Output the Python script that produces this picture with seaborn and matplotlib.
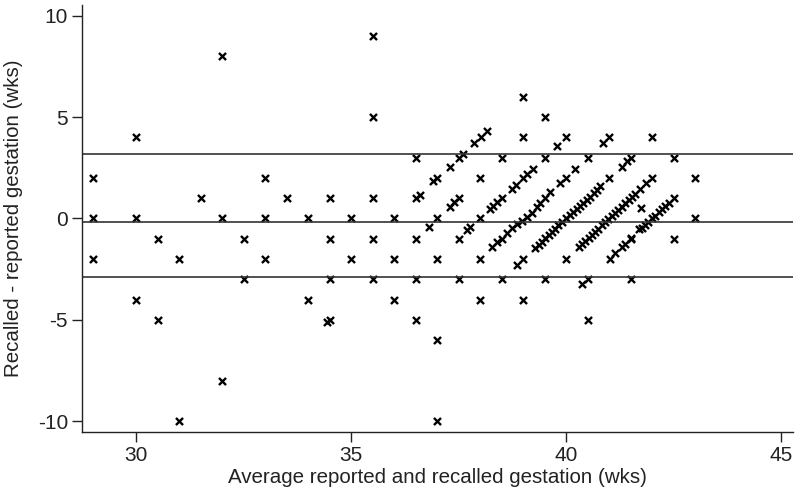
import matplotlib
matplotlib.use("Agg")
import matplotlib.pyplot as plt
import pandas as pd
import seaborn as sns

# Bland-Altman style data: average of reported/recalled gestation vs difference (wks)
avg_wks = [
    29, 29, 29, 30, 30, 30, 30.5, 30.5, 31, 31, 31.5,
    32, 32, 32, 32.5, 32.5, 33, 33, 33, 33.5, 34, 34,
    34.5, 34.5, 34.5, 34.5, 34.43, 35, 35,
    35.5, 35.5, 35.5, 35.5, 35.5, 36, 36, 36,
    36.5, 36.5, 36.5, 36.5, 36.5, 36.6, 36.8, 36.91,
    37, 37, 37, 37, 37, 37.29, 37.29, 37.4,
    37.5, 37.5, 37.5, 37.5, 37.59, 37.69, 37.77, 37.86, 38.02, 38.16,
    38, 38, 38, 38, 38.23, 38.31, 38.4, 38.5, 38.5, 38.5,
    38.74, 38.84, 39, 39.08, 39.22, 39.5, 39.78, 40,
    38.27, 38.39, 38.5, 38.63, 38.74, 38.85, 38.97, 39.09, 39.2, 39.32,
    39.4, 39.51, 39.63, 39.86, 40, 40.21, 40.5, 40.85, 41,
    39, 39, 39, 39, 38.85, 39.5, 39.5,
    39.28, 39.36, 39.44, 39.51, 39.59, 39.67, 39.74, 39.82, 39.9, 40.0,
    40.09, 40.17, 40.25, 40.33, 40.4, 40.48, 40.56, 40.64, 40.71, 40.79,
    41, 41.3, 41.41, 41.5, 42,
    40, 40.5, 40.5, 40.36,
    40.29, 40.36, 40.44, 40.52, 40.6, 40.67, 40.75, 40.83, 40.91, 40.98,
    41.06, 41.14, 41.21, 41.29, 41.37, 41.45, 41.53, 41.6, 41.72, 41.86, 41.99,
    41.74, 41.5, 41.5,
    41.01, 41.14, 41.29, 41.37, 41.51,
    41.7, 41.76, 41.84, 41.91, 41.99, 42.07, 42.15, 42.23, 42.3, 42.38, 42.5,
    42.5, 42.5, 43, 43,
]
diff_wks = [
    2, 0, -2, 4, 0, -4, -1, -5, -2, -10, 1,
    8, 0, -8, -1, -3, 2, 0, -2, 1, 0, -4,
    1, -1, -3, -5, -5.1, 0, -2,
    9, 5, 1, -1, -3, 0, -2, -4,
    3, 1, -1, -3, -5, 1.16, -0.43, 1.87,
    2, 0, -2, -6, -10, 2.56, 0.58, 0.83,
    1, 3, -1, -3, 3.2, -0.57, -0.43, 3.74, 4.04, 4.32,
    2, 0, -2, -4, 0.45, 0.62, 0.8, 1, 3, -3,
    1.44, 1.65, 2, 2.2, 2.44, 3, 3.58, 4,
    -1.42, -1.14, -1, -0.73, -0.48, -0.27, -0.11, 0.09, 0.29, 0.55,
    0.75, 1.0, 1.32, 1.74, 2, 2.44, 3, 3.72, 4,
    6, 4, -2, -4, -2.29, 5, -3,
    -1.47, -1.3, -1.14, -0.98, -0.81, -0.65, -0.5, -0.33, -0.17, 0,
    0.17, 0.31, 0.47, 0.62, 0.77, 0.93, 1.08, 1.25, 1.41, 1.58,
    2, 2.56, 2.84, 3, 4,
    -2, -5, -3, -3.23,
    -1.42, -1.28, -1.12, -0.96, -0.8, -0.66, -0.5, -0.34, -0.18, -0.04,
    0.12, 0.28, 0.42, 0.58, 0.74, 0.9, 1.06, 1.2, 1.44, 1.74, 1.98,
    0.5, -1, -3,
    -2.0, -1.72, -1.42, -1.26, -0.98,
    -0.53, -0.45, -0.32, -0.16, 0.0, 0.13, 0.3, 0.45, 0.6, 0.78, 1.0,
    3, -1, 2, 0,
]

# Mean difference and limits of agreement
mean_diff = -0.15
upper_limit = 3.18
lower_limit = -2.87

x_ticks = [30, 35, 40, 45]
y_ticks = [-10, -5, 0, 5, 10]

df = pd.DataFrame({"avg": avg_wks, "diff": diff_wks})

sns.set_theme(style="white")
plt.rcParams["font.family"] = ["Liberation Sans", "DejaVu Sans"]
plt.rcParams["axes.unicode_minus"] = False

fig = plt.figure(figsize=(8, 4.96), dpi=100)
ax = fig.add_axes([0.1025, 0.129, 0.889, 0.861])

sns.scatterplot(data=df, x="avg", y="diff", marker="x", s=26,
                color="black", linewidth=1.7, ax=ax)

for yv in (upper_limit, mean_diff, lower_limit):
    ax.axhline(yv, color="#333333", linewidth=1.2, zorder=1)

ax.set_xlim(28.74, 45.28)
ax.set_ylim(-10.53, 10.53)
ax.set_xticks(x_ticks)
ax.set_yticks(y_ticks)

ax.set_xlabel("Average reported and recalled gestation (wks)", fontsize=14.8,
              color="#222222", labelpad=2)
ax.set_ylabel("Recalled - reported gestation (wks)", fontsize=14.8,
              color="#222222")
ax.yaxis.set_label_coords(-0.083, 0.5)

sns.despine(ax=ax)
for side in ("left", "bottom"):
    ax.spines[side].set_color("#222222")
    ax.spines[side].set_linewidth(1.0)

ax.tick_params(axis="both", which="major", direction="out", length=7,
               width=1.0, color="#222222", labelsize=15, labelcolor="#222222",
               left=True, bottom=True, pad=3)

fig.savefig("out.png", dpi=100, facecolor="white")
plt.close(fig)
